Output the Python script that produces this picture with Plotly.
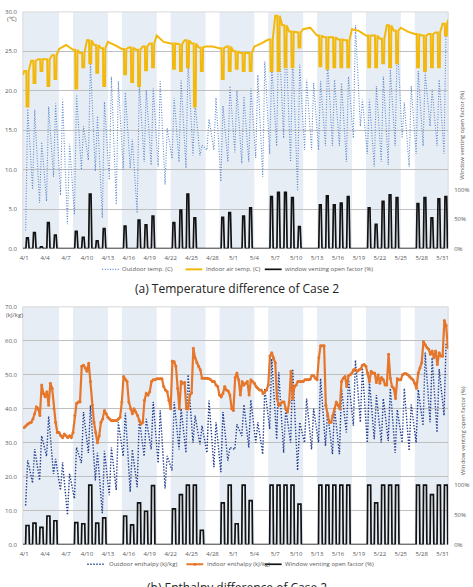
import plotly.graph_objects as go

# ---------------- data ----------------
N_DAYS = 61
TICK_DAYS = list(range(0, 61, 3))
TICK_LABELS = ["4/1", "4/4", "4/7", "4/10", "4/13", "4/16", "4/19", "4/22", "4/25", "4/28",
               "5/1", "5/4", "5/7", "5/10", "5/13", "5/16", "5/19", "5/22", "5/25", "5/28", "5/31"]
WEEKEND_DAYS = [5, 6, 12, 13, 19, 20, 26, 27, 33, 34, 40, 41, 47, 48, 54, 55]

# (a) temperature, deg C  (daily min / max of outdoor air)
OUT_T_MIN = [2.3, 7.5, 5.8, 6.0, 9.1, 6.8, 3.1, 4.3, 10.0, 11.2, 9.8, 3.9, 8.7, 5.6, 10.0, 10.2,
             4.5, 11.0, 10.6, 10.4, 8.1, 11.4, 11.0, 10.2, 11.8, 11.8, 12.5, 12.5, 8.5, 11.0, 12.2,
             10.8, 11.0, 11.5, 9.1, 12.0, 13.0, 14.0, 11.0, 7.3, 12.5, 12.5, 12.5, 13.0, 13.0, 13.0,
             11.0, 14.0, 15.5, 12.0, 10.4, 11.0, 10.6, 13.0, 14.0, 10.4, 12.0, 13.0, 15.5, 13.0, 12.0]
OUT_T_MAX = [17.7, 17.6, 13.5, 18.0, 18.4, 18.9, 13.3, 19.5, 15.5, 23.5, 16.8, 18.6, 21.8, 21.2,
             19.8, 13.9, 21.0, 20.1, 20.3, 21.2, 15.3, 19.1, 21.3, 23.9, 18.5, 13.1, 16.4, 19.1,
             18.1, 20.6, 20.0, 19.3, 20.3, 22.0, 23.7, 23.3, 27.7, 26.8, 24.8, 23.3, 21.4, 21.0,
             21.2, 23.7, 21.4, 21.0, 21.8, 28.3, 18.9, 18.9, 20.6, 21.8, 22.7, 26.4, 18.5, 20.6,
             22.5, 22.3, 20.2, 21.4, 28.5]
# indoor air temperature: level outside venting hours / level while venting (None = no dip)
IN_T_START = 22.0
IN_T_END = 29.0
IN_T_HI = [22.5, 23.8, 24.0, 24.0, 24.5, 25.3, 25.8, 25.2, 24.8, 26.4, 25.8, 25.4, 26.2, 25.8,
           25.3, 25.5, 25.2, 25.6, 26.0, 27.0, 26.2, 26.0, 25.9, 26.4, 26.0, 25.5, 25.6, 25.6,
           25.4, 25.6, 25.0, 24.8, 24.8, 25.6, 26.0, 26.5, 29.5, 28.3, 27.5, 27.4, 27.8, 28.0,
           27.0, 26.8, 26.8, 26.5, 26.4, 27.8, 27.6, 27.0, 27.0, 26.6, 28.3, 27.6, 28.0, 27.5,
           27.2, 27.0, 27.2, 27.4, 28.5]
IN_T_LO = [18.0, 21.0, 22.5, 20.6, 21.5, None, None, 20.3, 23.0, 23.5, 22.3, 20.6, None, None,
           22.1, 21.1, 20.6, 22.6, 23.0, None, None, 22.8, 22.5, 23.0, 18.0, 22.5, None, None,
           21.5, 22.5, 22.8, 22.5, 22.5, None, None, 22.5, 22.5, 23.0, 23.0, 25.5, None, None,
           23.1, 22.8, 23.0, 23.0, 23.0, None, None, 23.0, 23.0, 23.5, 23.0, 23.5, None, None,
           23.0, 22.5, 23.0, 23.0, 27.0]
# window venting open factor, % (daily level)
VENT_A = [18, 27, 3, 44, 23, 0, 0, 29, 19, 92, 13, 34, 0, 0, 38, 0, 48, 40, 55, 0, 0, 44, 65, 92,
          52, 0, 0, 0, 53, 61, 0, 55, 69, 0, 0, 88, 95, 95, 86, 37, 0, 0, 74, 89, 74, 77, 88, 0,
          0, 69, 41, 80, 91, 86, 0, 0, 76, 86, 52, 84, 88]

# (b) enthalpy, kJ/kg
OUT_H_MIN = [11.5, 18.1, 18.9, 26.0, 20.8, 16.0, 8.7, 13.5, 24.0, 27.0, 18.9, 9.2, 14.5, 16.0,
             26.0, 15.5, 16.9, 26.0, 28.0, 24.0, 16.5, 21.8, 28.0, 27.0, 30.0, 29.5, 27.0, 22.8,
             21.3, 24.7, 28.0, 32.0, 28.6, 30.0, 26.6, 34.0, 31.0, 27.0, 30.0, 21.8, 30.0, 28.0,
             30.0, 29.0, 26.6, 26.6, 33.0, 35.0, 36.0, 30.0, 31.0, 30.0, 30.5, 27.0, 30.0, 27.6,
             30.0, 35.0, 36.0, 33.0, 38.0]
OUT_H_MAX = [24.8, 28.1, 32.0, 37.8, 25.2, 24.2, 20.8, 28.6, 39.0, 41.0, 27.0, 27.6, 28.6, 36.0,
             38.8, 28.0, 37.0, 37.0, 42.0, 39.5, 26.1, 42.0, 40.0, 50.0, 38.0, 35.0, 42.4, 36.0,
             39.0, 28.6, 35.4, 41.2, 42.6, 36.0, 46.0, 54.7, 50.7, 40.0, 51.7, 36.0, 43.0, 40.0,
             48.9, 39.0, 40.0, 46.0, 48.9, 54.3, 52.0, 48.0, 44.0, 43.0, 46.0, 39.7, 46.0, 41.2,
             45.6, 56.5, 55.0, 51.7, 59.5]
# indoor enthalpy at 0h, 6h, 12h, 18h of each day
IN_H = [
    [34.5, 35.0, 35.5, 35.8], [36.0, 37.0, 38.5, 40.5], [40.0, 38.0, 47.0, 44.5], [43.5, 45.0, 41.0, 47.5],
    [46.0, 40.0, 36.0, 33.0], [33.0, 32.0, 31.5, 32.5], [32.0, 31.5, 32.0, 31.5], [33.0, 38.0, 41.5, 42.0],
    [42.0, 52.5, 52.8, 52.0], [51.0, 53.4, 48.0, 41.0], [36.0, 33.0, 30.0, 32.0], [36.0, 37.0, 39.5, 38.5],
    [37.5, 37.0, 36.5, 36.5], [36.5, 36.5, 37.0, 37.5], [42.0, 49.5, 48.7, 48.0], [42.0, 40.0, 38.5, 40.0],
    [39.0, 38.0, 36.5, 35.5], [36.0, 42.5, 44.5, 44.0], [45.0, 48.0, 48.5, 48.5], [48.8, 48.8, 48.8, 48.8],
    [46.5, 45.5, 45.0, 42.5], [40.0, 54.0, 53.8, 52.5], [46.0, 40.0, 48.0, 47.5], [47.7, 40.0, 40.0, 44.0],
    [44.6, 57.8, 55.0, 53.5], [52.5, 51.5, 49.0, 49.0], [49.0, 49.0, 48.8, 48.5], [48.0, 48.0, 47.0, 46.5],
    [44.0, 43.5, 44.5, 46.5], [45.5, 45.2, 44.0, 40.0], [39.5, 49.2, 50.5, 48.5], [44.0, 48.0, 47.0, 47.5],
    [48.0, 44.0, 48.5, 48.0], [47.5, 46.5, 46.0, 45.5], [45.5, 44.5, 45.0, 45.5], [47.0, 55.5, 56.5, 55.0],
    [53.5, 43.0, 41.0, 41.5], [42.0, 42.0, 40.0, 39.0], [42.0, 51.0, 43.0, 46.5], [47.0, 48.0, 48.0, 48.0],
    [48.0, 48.5, 48.5, 48.5], [48.7, 49.7, 49.7, 49.0], [48.5, 55.0, 58.5, 58.5], [58.5, 41.0, 38.0, 36.0],
    [36.0, 38.0, 40.0, 42.0], [41.0, 40.0, 48.0, 49.0], [49.5, 46.5, 49.7, 50.0], [50.5, 51.5, 51.5, 51.0],
    [51.5, 51.7, 52.8, 53.0], [52.5, 50.5, 48.0, 51.0], [50.5, 50.5, 47.7, 50.0], [47.5, 49.2, 48.5, 47.0],
    [47.0, 56.0, 49.0, 46.5], [46.0, 43.0, 48.8, 48.5], [48.5, 50.0, 50.3, 50.3], [50.0, 49.5, 49.0, 48.5],
    [47.5, 46.0, 50.5, 52.0], [53.5, 59.8, 58.8, 58.0], [57.5, 56.0, 57.0, 55.0], [57.0, 53.0, 56.5, 55.5],
    [55.5, 66.0, 64.5, 58.0],
]
VENT_B = [32, 36, 29, 48, 40, 0, 0, 37, 35, 100, 36, 45, 0, 0, 48, 33, 70, 56, 99, 0, 0, 60, 84,
          100, 100, 24, 0, 0, 70, 100, 35, 100, 74, 0, 0, 100, 100, 100, 100, 68, 0, 0, 100, 100,
          100, 100, 100, 0, 0, 100, 70, 100, 100, 100, 0, 0, 100, 100, 84, 100, 100]

# ---------------- layout constants ----------------
W, H = 473, 587
X_RANGE = [-0.2, 60.8]
OUT_HOURS = [0.2, 0.5]
VENT_HOURS_A = [0.24, 0.34, 0.58, 0.70]
VENT_HOURS_B = [0.20, 0.26, 0.68, 0.74]
IN_T_HOURS = [0.0, 0.30, 0.34, 0.60, 0.64]
IN_H_HOURS = [0.0, 0.25, 0.5, 0.75]

TXT = "#595959"
GRID = "#BFBFBF"
BAND = "#E7EDF5"
FONT = "Open Sans"


def px(x):
    return x / W


def py(y):
    return 1 - y / H


def minmax_series(mins, maxs):
    xs, ys = [], []
    for d in range(N_DAYS):
        xs += [d + OUT_HOURS[0], d + OUT_HOURS[1]]
        ys += [mins[d], maxs[d]]
    return xs, ys


def vent_series(vals, hours):
    xs, ys = [X_RANGE[0]], [0]
    for d, v in enumerate(vals):
        if v > 0:
            xs += [d + h for h in hours]
            ys += [0, v, v, 0]
    xs.append(X_RANGE[1])
    ys.append(0)
    return xs, ys


def indoor_t_series():
    xs, ys = [X_RANGE[0]], [IN_T_START]
    for d in range(N_DAYS):
        hi, lo = IN_T_HI[d], IN_T_LO[d]
        if lo is None:
            xs.append(d)
            ys.append(hi)
        else:
            xs += [d + h for h in IN_T_HOURS]
            ys += [hi, hi, lo, lo, hi]
    xs.append(X_RANGE[1])
    ys.append(IN_T_END)
    return xs, ys


def indoor_h_series():
    xs, ys = [], []
    for d in range(N_DAYS):
        for h, v in zip(IN_H_HOURS, IN_H[d]):
            xs.append(d + h)
            ys.append(v)
    return xs, ys


OUT_T_COLOR = "#5A88CC"
IN_T_COLOR = "#F3B80C"
OUT_H_COLOR = "#233F8E"
IN_H_COLOR = "#E5762A"
VENT_COLOR = "#111111"

fig = go.Figure()

# (a)
x, y = minmax_series(OUT_T_MIN, OUT_T_MAX)
fig.add_trace(go.Scatter(x=x, y=y, mode="lines", xaxis="x", yaxis="y",
                         line=dict(color=OUT_T_COLOR, width=1.1, dash="1px,1.6px"), name="Outdoor temp. (C)"))
x, y = indoor_t_series()
fig.add_trace(go.Scatter(x=x, y=y, mode="lines", xaxis="x", yaxis="y",
                         line=dict(color=IN_T_COLOR, width=2), name="Indoor air temp. (C)"))
x, y = vent_series(VENT_A, VENT_HOURS_A)
fig.add_trace(go.Scatter(x=x, y=y, mode="lines", xaxis="x", yaxis="y2",
                         line=dict(color=VENT_COLOR, width=1.7), name="window venting open factor (%)"))

# (b)
x, y = minmax_series(OUT_H_MIN, OUT_H_MAX)
fig.add_trace(go.Scatter(x=x, y=y, mode="lines", xaxis="x2", yaxis="y3",
                         line=dict(color=OUT_H_COLOR, width=1.4, dash="1.4px,1.6px"),
                         name="Outdoor enthalpy (kJ/kg)"))
x, y = indoor_h_series()
fig.add_trace(go.Scatter(x=x, y=y, mode="lines+markers", xaxis="x2", yaxis="y3",
                         line=dict(color=IN_H_COLOR, width=2.2), marker=dict(size=3, color=IN_H_COLOR),
                         name="Indoor enthalpy (kJ/kg)"))
x, y = vent_series(VENT_B, VENT_HOURS_B)
fig.add_trace(go.Scatter(x=x, y=y, mode="lines", xaxis="x2", yaxis="y4",
                         line=dict(color=VENT_COLOR, width=1.7), name="Window venting open factor (%)"))

# geometry (pixels)
X0, X1 = 20, 449
A_TOP, A_BOT = 8, 248
B_TOP, B_BOT = 307, 548

tickfont = dict(family=FONT, size=6, color=TXT)
xcommon = dict(range=X_RANGE, domain=[px(X0), px(X1)], tickmode="array", tickvals=TICK_DAYS,
               ticktext=TICK_LABELS, tickfont=tickfont, showgrid=False, zeroline=False,
               showline=False, ticks="", ticklabelstandoff=4, fixedrange=True)
ycommon = dict(tickfont=tickfont, gridcolor=GRID, gridwidth=1, zeroline=False, showline=False,
               ticks="", tickformat=".1f", ticklabelstandoff=5)
y2common = dict(side="right", range=[0, 400], tickmode="array", tickvals=[0, 50, 100],
                ticktext=["0%", "50%", "100%"], tickfont=tickfont, showgrid=False,
                zeroline=False, showline=False, ticks="", ticklabelstandoff=5)

fig.update_layout(
    width=W, height=H, margin=dict(l=0, r=0, t=0, b=0),
    paper_bgcolor="white", plot_bgcolor="rgba(0,0,0,0)", showlegend=False,
    font=dict(family=FONT, color=TXT),
    xaxis=dict(anchor="y", **xcommon),
    yaxis=dict(anchor="x", domain=[py(A_BOT), py(A_TOP)], range=[0, 30], dtick=5, **ycommon),
    yaxis2=dict(anchor="x", overlaying="y", **y2common),
    xaxis2=dict(anchor="y3", **xcommon),
    yaxis3=dict(anchor="x2", domain=[py(B_BOT), py(B_TOP)], range=[0, 70], dtick=10, **ycommon),
    yaxis4=dict(anchor="x2", overlaying="y3", **y2common),
)

# weekday background bands
shapes = []
weekday_runs = []
start = None
for d in range(N_DAYS):
    if d not in WEEKEND_DAYS:
        if start is None:
            start = d
    else:
        if start is not None:
            weekday_runs.append((start, d))
            start = None
if start is not None:
    weekday_runs.append((start, N_DAYS))
for xr, yr in (("x", "y"), ("x2", "y3")):
    for a, b in weekday_runs:
        shapes.append(dict(type="rect", xref=xr, yref=yr + " domain",
                           x0=a if a > 0 else X_RANGE[0], x1=min(b, X_RANGE[1]),
                           y0=0, y1=1, fillcolor=BAND, line=dict(width=0), layer="below"))
    shapes.append(dict(type="rect", xref=xr + " domain", yref=yr + " domain", x0=0, x1=1, y0=0, y1=1,
                       line=dict(color="#D9D9D9", width=1), fillcolor="rgba(0,0,0,0)", layer="below"))

annotations = []


def legend_item(x_line0, x_line1, ycen, text, color, width, dash=None, marker=False):
    shapes.append(dict(type="line", xref="paper", yref="paper", x0=px(x_line0), x1=px(x_line1),
                       y0=py(ycen), y1=py(ycen), line=dict(color=color, width=width,
                                                           dash=dash or "solid")))
    if marker:
        xm = (x_line0 + x_line1) / 2
        shapes.append(dict(type="circle", xref="paper", yref="paper", x0=px(xm - 1.6), x1=px(xm + 1.6),
                           y0=py(ycen + 1.6), y1=py(ycen - 1.6), fillcolor=color, line=dict(width=0)))
    annotations.append(dict(xref="paper", yref="paper", x=px(x_line1 + 1.5), y=py(ycen), text=text,
                            showarrow=False, xanchor="left", yanchor="middle",
                            font=dict(family=FONT, size=6, color=TXT)))


legend_item(100, 117, 269, "Outdoor temp. (C)", OUT_T_COLOR, 1.1, "1px,1.6px")
legend_item(184, 201, 269, "Indoor air temp. (C)", IN_T_COLOR, 2)
legend_item(264, 281, 269, "window venting open factor (%)", VENT_COLOR, 1.7)

legend_item(85, 103, 568, "Outdoor enthalpy (kJ/kg)", OUT_H_COLOR, 1.4, "1.4px,1.6px")
legend_item(185, 202, 568, "Indoor enthalpy (kJ/kg)", IN_H_COLOR, 2, marker=True)
legend_item(264, 281, 568, "Window venting open factor (%)", VENT_COLOR, 1.7)

# unit labels
annotations.append(dict(xref="paper", yref="paper", x=px(2.5), y=py(15.5), text="(℃)", showarrow=False,
                        xanchor="left", yanchor="middle", font=dict(family=FONT, size=6, color=TXT)))
annotations.append(dict(xref="paper", yref="paper", x=px(1.5), y=py(315), text="(kJ/kg)", showarrow=False,
                        xanchor="left", yanchor="middle", font=dict(family=FONT, size=6, color=TXT)))
# right axis titles
for ycen in ((A_TOP + A_BOT) / 2 + 5, (B_TOP + B_BOT) / 2 + 5):
    annotations.append(dict(xref="paper", yref="paper", x=px(463.5), y=py(ycen),
                            text="Window venting open factor (%)", textangle=-90, showarrow=False,
                            xanchor="center", yanchor="middle", font=dict(family=FONT, size=6, color=TXT)))
# captions
annotations.append(dict(xref="paper", yref="paper", x=px(236), y=py(288), text="(a) Temperature difference of Case 2",
                        showarrow=False, xanchor="center", yanchor="middle",
                        font=dict(family=FONT, size=12, color="#222222")))
annotations.append(dict(xref="paper", yref="paper", x=px(236), y=py(581), text="(b) Enthalpy difference of Case 2",
                        showarrow=False, xanchor="center", yanchor="top", yshift=-0,
                        font=dict(family=FONT, size=12, color="#222222")))

fig.update_layout(shapes=shapes, annotations=annotations)
fig.write_html("out.html")
